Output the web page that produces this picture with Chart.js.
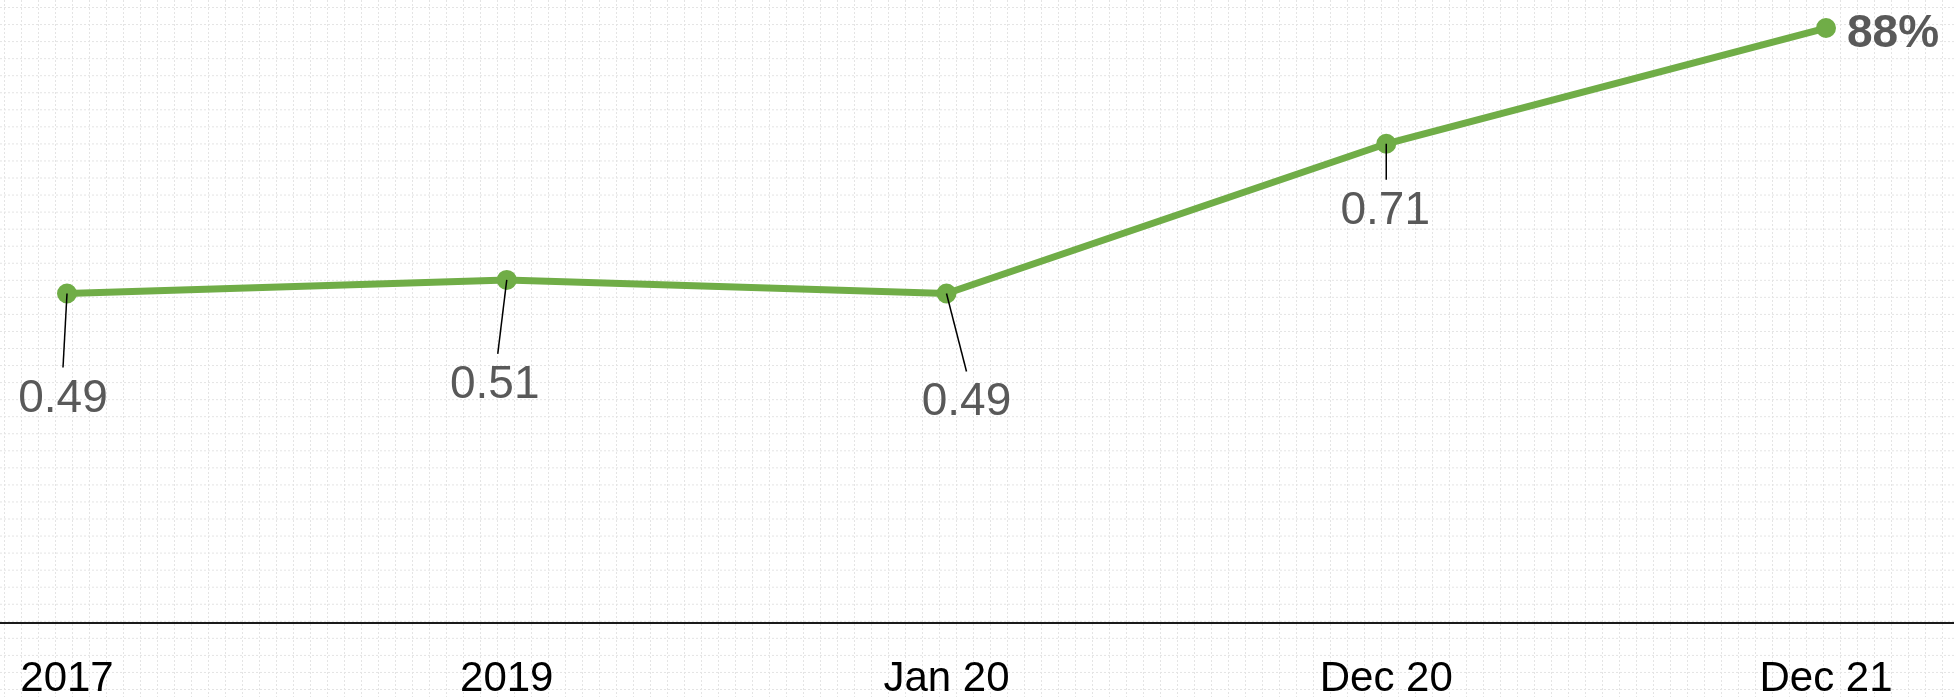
<!DOCTYPE html>
<html>
<head>
<meta charset="utf-8">
<script src="https://cdn.jsdelivr.net/npm/chart.js@4"></script>
<style>
  html, body { margin: 0; padding: 0; background: #fff; }
  #wrap { width: 1954px; height: 697px; position: relative; }
</style>
</head>
<body>
<div id="wrap"><canvas id="trendChart"></canvas></div>
<script>
// --- chart data ---
const categories = ['2017', '2019', 'Jan 20', 'Dec 20', 'Dec 21'];
const values = [0.49, 0.51, 0.49, 0.71, 0.88];
const valueLabels = ['0.49', '0.51', '0.49', '0.71', '88%'];

// label placement relative to each point (px): label centre, leader line end
const labelOffsets = [
    { dx: -4, dy: 102, lx: -4, ly: 74 },
    { dx: -12, dy: 102, lx: -9, ly: 74 },
    { dx: 20, dy: 105, lx: 20, ly: 78 },
    { dx: -1, dy: 64, lx: 0, ly: 36 },
    { dx: 21, dy: 2, lx: null, ly: null }
];

const GREEN = '#70ad47';
const LABEL_GREY = '#595959';

// dotted background grid over the whole canvas
const backgroundGrid = {
    id: 'backgroundGrid',
    beforeDraw(chart) {
        const ctx = chart.ctx;
        const w = chart.width, h = chart.height;
        ctx.save();
        ctx.fillStyle = '#ffffff';
        ctx.fillRect(0, 0, w, h);
        ctx.strokeStyle = '#e4e4e4';
        ctx.lineWidth = 1;
        ctx.setLineDash([2, 2]);
        for (let x = 4.5; x < w; x += 17) {
            ctx.beginPath();
            ctx.moveTo(x, 0);
            ctx.lineTo(x, h);
            ctx.stroke();
        }
        for (let y = 7.5; y < h; y += 17.05) {
            ctx.beginPath();
            ctx.moveTo(0, y);
            ctx.lineTo(w, y);
            ctx.stroke();
        }
        ctx.restore();
    }
};

// full-width baseline under the plot
const baseLine = {
    id: 'baseLine',
    beforeDatasetsDraw(chart) {
        const ctx = chart.ctx;
        const y = chart.chartArea.bottom;
        ctx.save();
        ctx.strokeStyle = '#1a1a1a';
        ctx.lineWidth = 2;
        ctx.beginPath();
        ctx.moveTo(0, y);
        ctx.lineTo(chart.width, y);
        ctx.stroke();
        ctx.restore();
    }
};

// value labels with leader lines
const pointLabels = {
    id: 'pointLabels',
    afterDatasetsDraw(chart) {
        const ctx = chart.ctx;
        const meta = chart.getDatasetMeta(0);
        ctx.save();
        meta.data.forEach((pt, i) => {
            const off = labelOffsets[i];
            const last = i === meta.data.length - 1;
            if (off.lx !== null) {
                ctx.strokeStyle = '#000';
                ctx.lineWidth = 1.5;
                ctx.beginPath();
                ctx.moveTo(pt.x, pt.y);
                ctx.lineTo(pt.x + off.lx, pt.y + off.ly);
                ctx.stroke();
            }
            const size = 46;
            ctx.font = (last ? 'bold ' : '') + size + 'px "Liberation Sans", Arial, sans-serif';
            ctx.fillStyle = LABEL_GREY;
            ctx.textAlign = last ? 'left' : 'center';
            ctx.textBaseline = 'alphabetic';
            // dy is the centre of the digits, baseline sits ~0.36em lower
            ctx.fillText(valueLabels[i], pt.x + off.dx, pt.y + off.dy + size * 0.36);
        });
        ctx.restore();
    }
};

new Chart(document.getElementById('trendChart'), {
    type: 'line',
    data: {
        labels: categories,
        datasets: [{
            data: values,
            borderColor: GREEN,
            backgroundColor: GREEN,
            borderWidth: 7,
            pointRadius: 9,
            pointBorderWidth: 2,
            pointBackgroundColor: GREEN,
            pointBorderColor: GREEN,
            tension: 0,
            clip: false
        }]
    },
    options: {
        responsive: true,
        maintainAspectRatio: false,
        animation: false,
        layout: {
            // x ticks pad on both sides of the label, so pull the bottom back down
            padding: { left: 67, right: 128, top: 10, bottom: -38 }
        },
        plugins: {
            legend: { display: false },
            tooltip: { enabled: false }
        },
        scales: {
            x: {
                offset: false,
                grid: { display: false, drawTicks: false },
                border: { display: false },
                ticks: {
                    color: '#000',
                    padding: 10,
                    maxRotation: 0,
                    autoSkip: false,
                    font: { family: '"Liberation Sans", Arial, sans-serif', size: 42, lineHeight: 2.19 }
                }
            },
            y: {
                display: false,
                min: 0.006,
                max: 0.905
            }
        }
    },
    plugins: [backgroundGrid, baseLine, pointLabels]
});
</script>
</body>
</html>
